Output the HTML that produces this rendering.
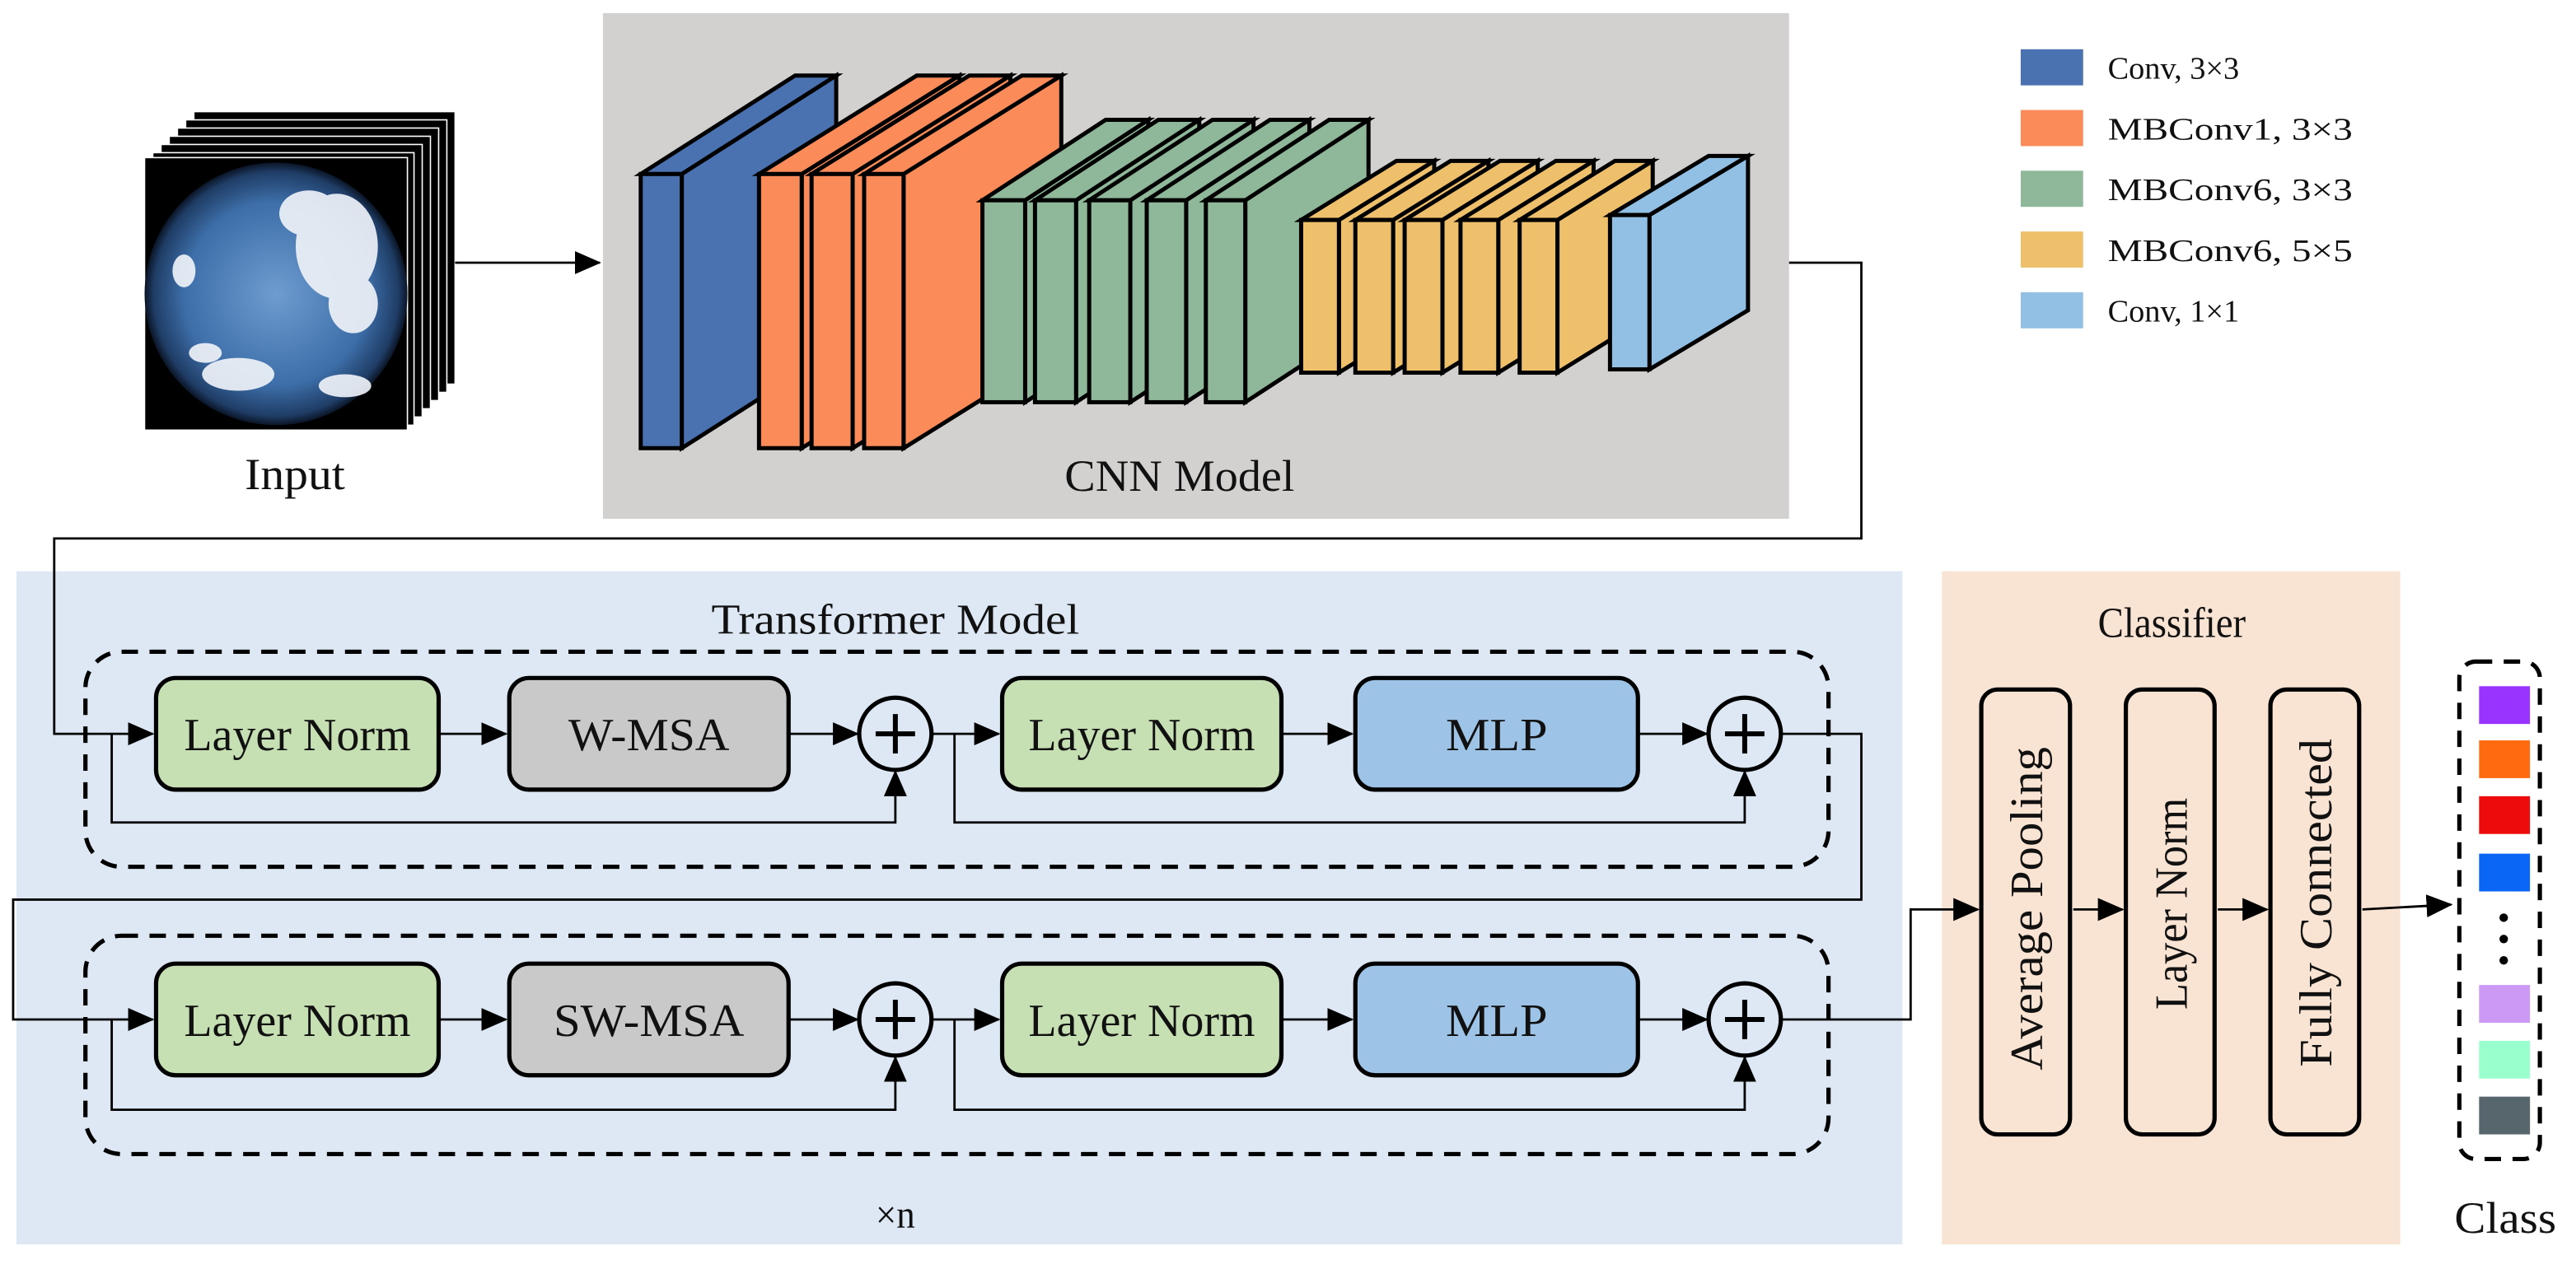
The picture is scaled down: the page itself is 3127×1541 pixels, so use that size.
<!DOCTYPE html>
<html><head><meta charset="utf-8"><style>
html,body{margin:0;padding:0;background:#fff}
svg{display:block}
</style></head><body>
<svg width="3127" height="1541" viewBox="0 0 1568 773" preserveAspectRatio="none" xmlns="http://www.w3.org/2000/svg" font-family="'Liberation Serif', serif">
<defs>
<marker id="ah2" markerWidth="16" markerHeight="14" refX="15" refY="7" orient="auto" markerUnits="userSpaceOnUse">
<path d="M0,0 L16,7 L0,14 Z" fill="#000"/></marker>
<radialGradient id="sky" cx="50%" cy="50%" r="50%">
<stop offset="0" stop-color="#6e9cd0"/><stop offset="0.7" stop-color="#3d6ea8"/><stop offset="0.93" stop-color="#1f3d66"/><stop offset="1" stop-color="#0b1526"/></radialGradient>
</defs>

<rect x="367" y="8" width="722" height="308" fill="#d3d0d0"/>
<text x="648" y="299" font-size="27" textLength="140" lengthAdjust="spacingAndGlyphs" font-family="'Liberation Serif', serif" fill="#111">CNN Model</text>

<g stroke="#000" stroke-width="2.5" stroke-linejoin="miter">
<g fill="#4a72b0">
<polygon points="415,106 509,46 509,213 415,273"/><polygon points="390,106 484,46 509,46 415,106"/><rect x="390" y="106" width="25" height="167"/></g>
<g fill="#fb8c5a">
<polygon points="488,106 584,46 584,213 488,273"/><polygon points="462,106 558,46 584,46 488,106"/><rect x="462" y="106" width="26" height="167"/>
<polygon points="519,106 615,46 615,213 519,273"/><polygon points="494,106 590,46 615,46 519,106"/><rect x="494" y="106" width="25" height="167"/>
<polygon points="550,106 646,46 646,213 550,273"/><polygon points="526,106 622,46 646,46 550,106"/><rect x="526" y="106" width="24" height="167"/></g>
<g fill="#8fb89a">
<polygon points="624,122 699,73 699,196 624,245"/><polygon points="598,122 673,73 699,73 624,122"/><rect x="598" y="122" width="26" height="123"/>
<polygon points="655,122 730,73 730,196 655,245"/><polygon points="630,122 705,73 730,73 655,122"/><rect x="630" y="122" width="25" height="123"/>
<polygon points="688,122 763,73 763,196 688,245"/><polygon points="663,122 738,73 763,73 688,122"/><rect x="663" y="122" width="25" height="123"/>
<polygon points="722,122 797,73 797,196 722,245"/><polygon points="698,122 773,73 797,73 722,122"/><rect x="698" y="122" width="24" height="123"/>
<polygon points="758,122 833,73 833,196 758,245"/><polygon points="734,122 809,73 833,73 758,122"/><rect x="734" y="122" width="24" height="123"/></g>
<g fill="#eec06c">
<polygon points="815,134 873,98 873,191 815,227"/><polygon points="792,134 850,98 873,98 815,134"/><rect x="792" y="134" width="23" height="93"/>
<polygon points="848,134 906,98 906,191 848,227"/><polygon points="825,134 883,98 906,98 848,134"/><rect x="825" y="134" width="23" height="93"/>
<polygon points="878,134 936,98 936,191 878,227"/><polygon points="855,134 913,98 936,98 878,134"/><rect x="855" y="134" width="23" height="93"/>
<polygon points="912,134 970,98 970,191 912,227"/><polygon points="889,134 947,98 970,98 912,134"/><rect x="889" y="134" width="23" height="93"/>
<polygon points="948,134 1006,98 1006,191 948,227"/><polygon points="925,134 983,98 1006,98 948,134"/><rect x="925" y="134" width="23" height="93"/></g>
<g fill="#92c0e4">
<polygon points="1004,131 1064,95 1064,189 1004,225"/><polygon points="980,131 1040,95 1064,95 1004,131"/><rect x="980" y="131" width="24" height="94"/></g>
</g>

<g stroke="#fff" stroke-width="0.8" fill="#000">
<rect x="118" y="68" width="159" height="166"/>
<rect x="113" y="73" width="159" height="166"/>
<rect x="108" y="78" width="159" height="166"/>
<rect x="103" y="83" width="159" height="166"/>
<rect x="98" y="88" width="159" height="166"/>
<rect x="93" y="93" width="159" height="166"/>
<rect x="88" y="96" width="160" height="166"/>
</g>
<circle cx="168" cy="179" r="80" fill="url(#sky)"/>
<g fill="#eef2f8" opacity="0.92">
<ellipse cx="205" cy="150" rx="25" ry="32"/><ellipse cx="188" cy="130" rx="18" ry="14"/><ellipse cx="215" cy="185" rx="15" ry="18"/>
<ellipse cx="145" cy="228" rx="22" ry="10"/><ellipse cx="125" cy="215" rx="10" ry="6"/><ellipse cx="210" cy="235" rx="16" ry="7"/>
<ellipse cx="112" cy="165" rx="7" ry="10"/></g>

<g font-family="'Liberation Serif', serif" fill="#111">
<text x="149" y="298" font-size="27" textLength="61" lengthAdjust="spacingAndGlyphs">Input</text>

<rect x="1230" y="30" width="38" height="22" fill="#4a72b0"/>
<rect x="1230" y="67" width="38" height="22" fill="#fb8c5a"/>
<rect x="1230" y="104" width="38" height="22" fill="#8fb89a"/>
<rect x="1230" y="141" width="38" height="22" fill="#eec06c"/>
<rect x="1230" y="178" width="38" height="22" fill="#92c0e4"/>
<g font-size="19">
<text x="1283" y="48" textLength="80" lengthAdjust="spacingAndGlyphs">Conv, 3×3</text>
<text x="1283" y="85" textLength="149" lengthAdjust="spacingAndGlyphs">MBConv1, 3×3</text>
<text x="1283" y="122" textLength="149" lengthAdjust="spacingAndGlyphs">MBConv6, 3×3</text>
<text x="1283" y="159" textLength="149" lengthAdjust="spacingAndGlyphs">MBConv6, 5×5</text>
<text x="1283" y="196" textLength="80" lengthAdjust="spacingAndGlyphs">Conv, 1×1</text></g>

<rect x="10" y="348" width="1148" height="410" fill="#dde8f4"/>
<rect x="1182" y="348" width="279" height="410" fill="#f9e3d3"/>
<text x="433" y="386" font-size="26" textLength="224" lengthAdjust="spacingAndGlyphs">Transformer Model</text>
<text x="1277" y="388" font-size="26" textLength="90" lengthAdjust="spacingAndGlyphs">Classifier</text>
<text x="533" y="748" font-size="24" textLength="24" lengthAdjust="spacingAndGlyphs">×n</text>
</g>

<g fill="none" stroke="#000" stroke-width="1.4">
<line x1="277" y1="160" x2="365" y2="160" marker-end="url(#ah2)"/>
<polyline points="1089,160 1133,160 1133,328 33,328 33,447 93,447" marker-end="url(#ah2)"/>
<polyline points="1084,447 1133,447 1133,548 8,548 8,621 93,621" marker-end="url(#ah2)"/>
<polyline points="1084,621 1163,621 1163,554 1204,554" marker-end="url(#ah2)"/>
<line x1="1262" y1="554" x2="1292" y2="554" marker-end="url(#ah2)"/>
<line x1="1350" y1="554" x2="1380" y2="554" marker-end="url(#ah2)"/>
<line x1="1438" y1="554" x2="1492" y2="551" marker-end="url(#ah2)"/>
</g>

<g fill="none" stroke="#000" stroke-width="2.6" stroke-dasharray="10,7">
<rect x="52" y="397" width="1061" height="131" rx="22"/>
<rect x="52" y="570" width="1061" height="133" rx="22"/>
<rect x="1497" y="403" width="49" height="303" rx="10"/>
</g>

<g>
<g fill="none" stroke="#000" stroke-width="1.4">
<line x1="267" y1="447" x2="308" y2="447" marker-end="url(#ah2)"/>
<line x1="480" y1="447" x2="522" y2="447" marker-end="url(#ah2)"/>
<line x1="567" y1="447" x2="608" y2="447" marker-end="url(#ah2)"/>
<line x1="780" y1="447" x2="823" y2="447" marker-end="url(#ah2)"/>
<line x1="997" y1="447" x2="1039" y2="447" marker-end="url(#ah2)"/>
<polyline points="68,447 68,501 545,501 545,470" marker-end="url(#ah2)"/>
<polyline points="581,447 581,501 1062,501 1062,470" marker-end="url(#ah2)"/>
</g>
<g stroke="#000" stroke-width="2.6">
<rect x="95" y="413" width="172" height="68" rx="12" fill="#c6e0b4"/>
<rect x="310" y="413" width="170" height="68" rx="12" fill="#c9c9c9"/>
<rect x="610" y="413" width="170" height="68" rx="12" fill="#c6e0b4"/>
<rect x="825" y="413" width="172" height="68" rx="12" fill="#9dc3e6"/>
<circle cx="545" cy="447" r="22" fill="none"/>
<circle cx="1062" cy="447" r="22" fill="none"/>
<path d="M545,435 V459 M533,447 H557 M1062,435 V459 M1050,447 H1074" stroke-width="3"/>
</g>
<g font-size="28" font-family="'Liberation Serif', serif" fill="#111">
<text x="112" y="457" textLength="138" lengthAdjust="spacingAndGlyphs">Layer Norm</text>
<text x="346" y="457" textLength="98" lengthAdjust="spacingAndGlyphs">W-MSA</text>
<text x="626" y="457" textLength="138" lengthAdjust="spacingAndGlyphs">Layer Norm</text>
<text x="880" y="457" textLength="62" lengthAdjust="spacingAndGlyphs">MLP</text></g>
</g>

<g>
<g fill="none" stroke="#000" stroke-width="1.4">
<line x1="267" y1="621" x2="308" y2="621" marker-end="url(#ah2)"/>
<line x1="480" y1="621" x2="522" y2="621" marker-end="url(#ah2)"/>
<line x1="567" y1="621" x2="608" y2="621" marker-end="url(#ah2)"/>
<line x1="780" y1="621" x2="823" y2="621" marker-end="url(#ah2)"/>
<line x1="997" y1="621" x2="1039" y2="621" marker-end="url(#ah2)"/>
<polyline points="68,621 68,676 545,676 545,644" marker-end="url(#ah2)"/>
<polyline points="581,621 581,676 1062,676 1062,644" marker-end="url(#ah2)"/>
</g>
<g stroke="#000" stroke-width="2.6">
<rect x="95" y="587" width="172" height="68" rx="12" fill="#c6e0b4"/>
<rect x="310" y="587" width="170" height="68" rx="12" fill="#c9c9c9"/>
<rect x="610" y="587" width="170" height="68" rx="12" fill="#c6e0b4"/>
<rect x="825" y="587" width="172" height="68" rx="12" fill="#9dc3e6"/>
<circle cx="545" cy="621" r="22" fill="none"/>
<circle cx="1062" cy="621" r="22" fill="none"/>
<path d="M545,609 V633 M533,621 H557 M1062,609 V633 M1050,621 H1074" stroke-width="3"/>
</g>
<g font-size="28" font-family="'Liberation Serif', serif" fill="#111">
<text x="112" y="631" textLength="138" lengthAdjust="spacingAndGlyphs">Layer Norm</text>
<text x="337" y="631" textLength="116" lengthAdjust="spacingAndGlyphs">SW-MSA</text>
<text x="626" y="631" textLength="138" lengthAdjust="spacingAndGlyphs">Layer Norm</text>
<text x="880" y="631" textLength="62" lengthAdjust="spacingAndGlyphs">MLP</text></g>
</g>

<g fill="none" stroke="#000" stroke-width="2.6">
<rect x="1206" y="420" width="54" height="271" rx="10"/>
<rect x="1294" y="420" width="54" height="271" rx="10"/>
<rect x="1382" y="420" width="54" height="271" rx="10"/>
</g>
<g font-size="28" font-family="'Liberation Serif', serif" fill="#111">
<text transform="translate(1243,652) rotate(-90)" textLength="197" lengthAdjust="spacingAndGlyphs">Average Pooling</text>
<text transform="translate(1331,615) rotate(-90)" textLength="129" lengthAdjust="spacingAndGlyphs">Layer Norm</text>
<text transform="translate(1419,650) rotate(-90)" textLength="200" lengthAdjust="spacingAndGlyphs">Fully Connected</text>
</g>

<rect x="1509" y="418" width="31" height="23" fill="#9933ff"/>
<rect x="1509" y="451" width="31" height="23" fill="#ff6a10"/>
<rect x="1509" y="485" width="31" height="23" fill="#ee0b0b"/>
<rect x="1509" y="520" width="31" height="23" fill="#0a66f5"/>
<circle cx="1524" cy="559" r="2.6" fill="#000"/>
<circle cx="1524" cy="572" r="2.6" fill="#000"/>
<circle cx="1524" cy="585" r="2.6" fill="#000"/>
<rect x="1509" y="600" width="31" height="23" fill="#cc99f5"/>
<rect x="1509" y="634" width="31" height="23" fill="#99ffcc"/>
<rect x="1509" y="668" width="31" height="23" fill="#57666d"/>
<text x="1494" y="751" font-size="27" textLength="62" lengthAdjust="spacingAndGlyphs" font-family="'Liberation Serif', serif" fill="#111">Class</text>
</svg>
</body></html>
